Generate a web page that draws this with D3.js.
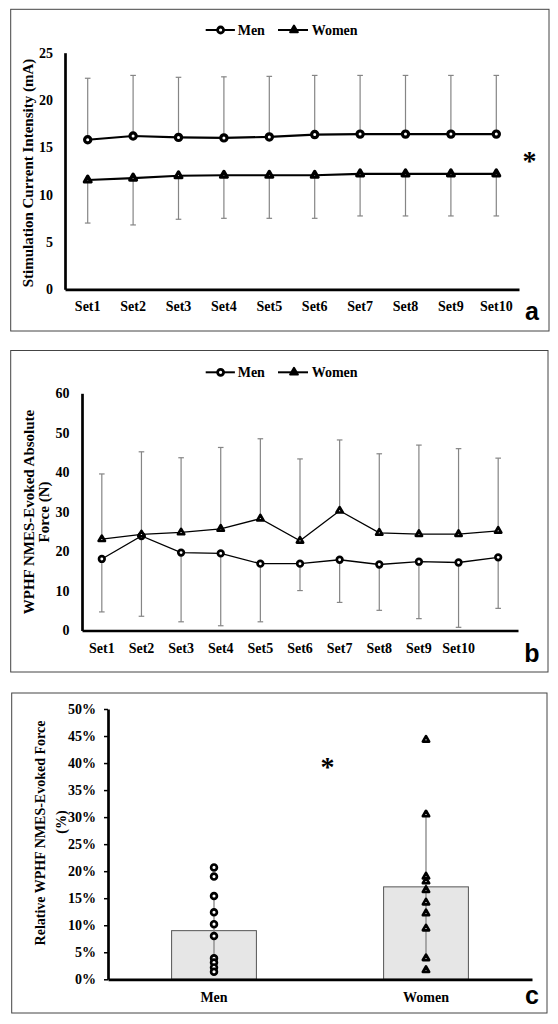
<!DOCTYPE html>
<html>
<head>
<meta charset="utf-8">
<script src="https://cdn.jsdelivr.net/npm/d3@7"></script>
<style>
  body { margin: 0; background: #fff; }
  text { font-family: "Liberation Serif", serif; font-weight: bold; fill: #000; }
</style>
</head>
<body>
<div id="chart"></div>
<script>
// panel a - stimulation current intensity (mA)
const setsA = ["Set1", "Set2", "Set3", "Set4", "Set5", "Set6", "Set7", "Set8", "Set9", "Set10"];
const menCurrent = [15.8, 16.2, 16.05, 16.0, 16.1, 16.35, 16.4, 16.4, 16.4, 16.4];
const menCurrentSD = [6.5, 6.4, 6.35, 6.45, 6.4, 6.25, 6.2, 6.2, 6.2, 6.2];
const womenCurrent = [11.55, 11.75, 12.0, 12.05, 12.05, 12.05, 12.2, 12.2, 12.2, 12.2];
const womenCurrentSD = [4.55, 4.95, 4.6, 4.55, 4.55, 4.55, 4.45, 4.45, 4.45, 4.45];
const ticksA = [0, 5, 10, 15, 20, 25];

// panel b - absolute force (N)
const setsB = ["Set1", "Set2", "Set3", "Set4", "Set5", "Set6", "Set7", "Set8", "Set9", "Set10", ""];
const menForce = [18.1, 23.9, 19.7, 19.5, 16.9, 16.9, 17.9, 16.7, 17.4, 17.2, 18.5];
const menForceSD = [13.4, 20.3, 17.5, 18.3, 14.7, 6.8, 10.8, 11.6, 14.4, 16.4, 12.9];
const womenForce = [23.1, 24.3, 24.8, 25.7, 28.3, 22.7, 30.3, 24.7, 24.4, 24.4, 25.2];
const womenForceSD = [16.5, 20.9, 18.9, 20.6, 20.2, 20.7, 17.9, 20.0, 22.5, 21.6, 18.4];
const ticksB = [0, 10, 20, 30, 40, 50, 60];

// panel c - relative force (%)
const groupsC = ["Men", "Women"];
const meanRel = [0.090, 0.171];
const sdRel = [0.062, 0.130];
const menRel = [0.207, 0.190, 0.154, 0.124, 0.102, 0.080, 0.039, 0.031, 0.022, 0.014];
const womenRel = [0.443, 0.305, 0.190, 0.181, 0.165, 0.142, 0.122, 0.094, 0.039, 0.017];
const ticksC = [0, 0.05, 0.10, 0.15, 0.20, 0.25, 0.30, 0.35, 0.40, 0.45, 0.50];

const svg = d3.select("#chart").append("svg")
  .attr("width", 558)
  .attr("height", 1024);

const errColor = "#858585";

// panel frames
[[10.7, 9.3, 549, 331], [10.7, 350.5, 548, 672], [11.7, 693, 547, 1013]].forEach(b => {
  svg.append("rect")
    .attr("x", b[0]).attr("y", b[1])
    .attr("width", b[2] - b[0]).attr("height", b[3] - b[1])
    .attr("fill", "none").attr("stroke", "#444").attr("stroke-width", 1);
});

function styleAxis(g, fontSize) {
  g.select(".domain").attr("stroke", "#000").attr("stroke-width", 2.7);
  g.selectAll(".tick line").attr("stroke", "#000").attr("stroke-width", 1.5);
  g.selectAll(".tick text")
    .attr("fill", "#000")
    .style("font-family", "'Liberation Serif', serif")
    .style("font-weight", "bold")
    .style("font-size", fontSize + "px");
}

function circleMark(x, y, r, sw) {
  svg.append("circle").attr("cx", x).attr("cy", y).attr("r", r)
    .attr("fill", "#fff").attr("stroke", "#000").attr("stroke-width", sw);
}

function triMark(x, y, size, sw) {
  svg.append("path").attr("transform", `translate(${x},${y})`)
    .attr("d", d3.symbol(d3.symbolTriangle, size)())
    .attr("fill", "#fff").attr("stroke", "#000").attr("stroke-width", sw)
    .attr("stroke-linejoin", "round");
}

function legend(y) {
  const g = svg.append("g");
  g.append("line").attr("x1", 205.7).attr("x2", 234.9).attr("y1", y).attr("y2", y)
    .attr("stroke", "#000").attr("stroke-width", 2);
  circleMark(220.6, y, 3, 2.8);
  g.append("text").attr("x", 237.7).attr("y", y).attr("dy", "0.35em")
    .style("font-size", "14px").text("Men");
  g.append("line").attr("x1", 278).attr("x2", 308).attr("y1", y).attr("y2", y)
    .attr("stroke", "#000").attr("stroke-width", 2);
  svg.append("path").attr("transform", `translate(294,${y})`)
    .attr("d", d3.symbol(d3.symbolTriangle, 26)())
    .attr("fill", "#000").attr("stroke", "#000").attr("stroke-width", 2)
    .attr("stroke-linejoin", "round");
  g.append("text").attr("x", 311.7).attr("y", y).attr("dy", "0.35em")
    .style("font-size", "14px").text("Women");
}

function linePanel(opt) {
  const x = d3.scaleBand().domain(opt.cats).range(opt.xr).padding(0);
  const y = d3.scaleLinear().domain([0, opt.max]).range(opt.yr);
  const cx = i => x(opt.cats[i]) + x.bandwidth() / 2;

  const gy = svg.append("g").attr("transform", `translate(${opt.xr[0]},0)`)
    .call(d3.axisLeft(y).tickValues(opt.ticks).tickSize(0).tickSizeOuter(0).tickPadding(opt.yPad));
  styleAxis(gy, 14);
  const gx = svg.append("g").attr("transform", `translate(0,${opt.yr[0]})`)
    .call(d3.axisBottom(x).tickSize(0).tickSizeOuter(0).tickPadding(opt.xPad));
  styleAxis(gx, 14);

  // error bars
  opt.series.forEach(s => {
    s.values.forEach((v, i) => {
      const end = v + s.dir * s.sd[i];
      svg.append("line").attr("x1", cx(i)).attr("x2", cx(i))
        .attr("y1", y(v)).attr("y2", y(end))
        .attr("stroke", errColor).attr("stroke-width", 1.2);
      svg.append("line").attr("x1", cx(i) - 2.8).attr("x2", cx(i) + 2.8)
        .attr("y1", y(end)).attr("y2", y(end))
        .attr("stroke", errColor).attr("stroke-width", 1.2);
    });
  });

  opt.series.forEach(s => {
    const line = d3.line().x((d, i) => cx(i)).y(d => y(d));
    svg.append("path").datum(s.values)
      .attr("fill", "none").attr("stroke", "#000").attr("stroke-width", opt.lw)
      .attr("d", line);
  });

  opt.series.forEach(s => {
    s.values.forEach((v, i) => {
      if (s.shape === "circle") circleMark(cx(i), y(v), opt.r, opt.sw);
      else triMark(cx(i), y(v), opt.tri, opt.sw);
    });
  });
}

// ---- panel a
legend(30);
linePanel({
  cats: setsA, xr: [65, 519], yr: [289.3, 52.7], max: 25, ticks: ticksA,
  yPad: 12, xPad: 11.5, lw: 2.2, r: 3.1, sw: 3.2, tri: 20,
  series: [
    { values: menCurrent, sd: menCurrentSD, dir: 1, shape: "circle" },
    { values: womenCurrent, sd: womenCurrentSD, dir: -1, shape: "triangle" }
  ]
});
svg.append("text")
  .attr("transform", "translate(27.8,173) rotate(-90)")
  .attr("text-anchor", "middle").attr("dy", "0.35em")
  .style("font-size", "15px")
  .text("Stimulation Current Intensity (mA)");
svg.append("text").attr("x", 529.5).attr("y", 170).attr("text-anchor", "middle")
  .style("font-size", "28px").text("*");
svg.append("text").attr("x", 532).attr("y", 320).attr("text-anchor", "middle")
  .style("font-family", "'Liberation Sans', Arial, sans-serif").style("font-size", "25px")
  .text("a");

// ---- panel b
legend(372.3);
linePanel({
  cats: setsB, xr: [82, 518], yr: [630.5, 393.3], max: 60, ticks: ticksB,
  yPad: 12.6, xPad: 12.4, lw: 1.3, r: 2.8, sw: 2.7, tri: 17,
  series: [
    { values: menForce, sd: menForceSD, dir: -1, shape: "circle" },
    { values: womenForce, sd: womenForceSD, dir: 1, shape: "triangle" }
  ]
});
const titleB = svg.append("text")
  .attr("transform", "translate(36,512) rotate(-90)")
  .attr("text-anchor", "middle")
  .style("font-size", "15px");
titleB.append("tspan").attr("x", 0).attr("y", -7.6).attr("dy", "0.35em").text("WPHF NMES-Evoked Absolute");
titleB.append("tspan").attr("x", 0).attr("y", 7.6).attr("dy", "0.35em").text("Force (N)");
svg.append("text").attr("x", 532).attr("y", 661.5).attr("text-anchor", "middle")
  .style("font-family", "'Liberation Sans', Arial, sans-serif").style("font-size", "25px")
  .text("b");

// ---- panel c
const xC = d3.scaleBand().domain(groupsC).range([108, 532]).padding(0);
const yC = d3.scaleLinear().domain([0, 0.5]).range([979.3, 709]);
const cC = g => xC(g) + xC.bandwidth() / 2;
const barW = xC.bandwidth() * 0.4;

svg.selectAll(".bar").data(groupsC).enter().append("rect")
  .attr("class", "bar")
  .attr("x", d => cC(d) - barW / 2)
  .attr("y", (d, i) => yC(meanRel[i]))
  .attr("width", barW)
  .attr("height", (d, i) => yC(0) - yC(meanRel[i]))
  .attr("fill", "#e6e6e6").attr("stroke", "#555").attr("stroke-width", 1);

groupsC.forEach((g, i) => {
  svg.append("line").attr("x1", cC(g)).attr("x2", cC(g))
    .attr("y1", yC(meanRel[i] + sdRel[i])).attr("y2", yC(meanRel[i] - sdRel[i]))
    .attr("stroke", errColor).attr("stroke-width", 1.3);
});

const gyC = svg.append("g").attr("transform", "translate(108,0)")
  .call(d3.axisLeft(yC).tickValues(ticksC).tickSize(4).tickSizeOuter(0).tickPadding(8)
    .tickFormat(d3.format(".0%")));
styleAxis(gyC, 14);
const gxC = svg.append("g").attr("transform", "translate(0,979.3)")
  .call(d3.axisBottom(xC).tickSize(0).tickSizeOuter(0).tickPadding(12.4));
styleAxis(gxC, 14);

menRel.forEach(v => circleMark(cC("Men"), yC(v), 2.9, 2.7));
womenRel.forEach(v => triMark(cC("Women"), yC(v), 17, 2.7));

svg.append("text")
  .attr("transform", "translate(40,833) rotate(-90)")
  .attr("text-anchor", "middle").attr("dy", "0.35em")
  .style("font-size", "14px")
  .text("Relative WPHF NMES-Evoked Force");
svg.append("text")
  .attr("transform", "translate(61,822) rotate(-90)")
  .attr("text-anchor", "middle").attr("dy", "0.35em")
  .style("font-size", "14px")
  .text("(%)");
svg.append("text").attr("x", 327.4).attr("y", 776).attr("text-anchor", "middle")
  .style("font-size", "28px").text("*");
svg.append("text").attr("x", 532).attr("y", 1003.5).attr("text-anchor", "middle")
  .style("font-family", "'Liberation Sans', Arial, sans-serif").style("font-size", "25px")
  .text("c");
</script>
</body>
</html>
